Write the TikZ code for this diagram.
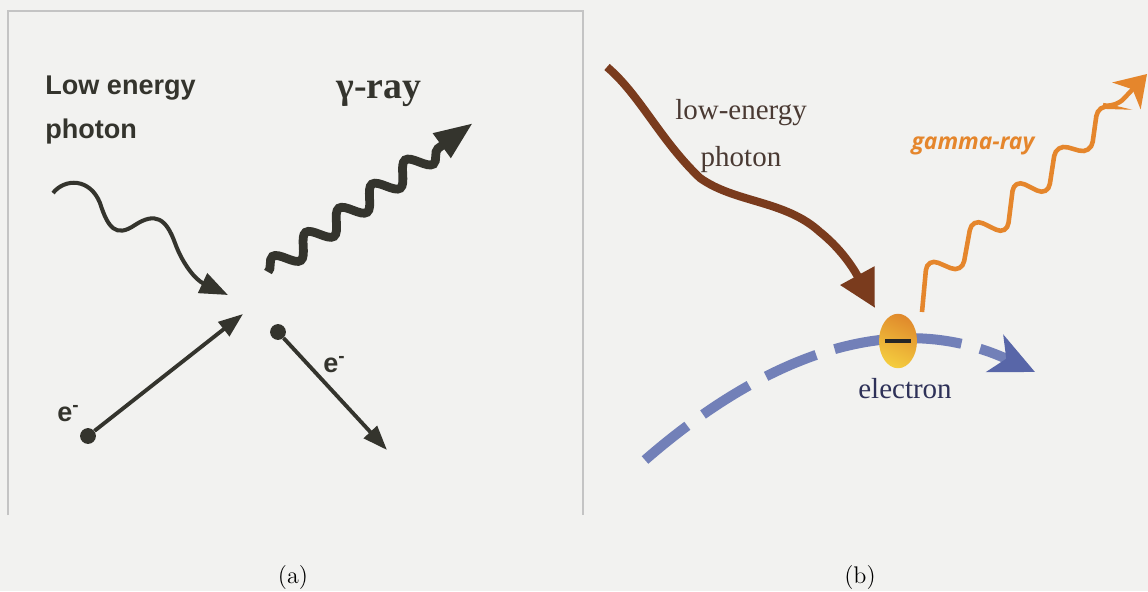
\documentclass[tikz,border=0pt]{standalone}
\usepackage{fontspec}
\usepackage{tikz}
\usetikzlibrary{arrows.meta, calc, positioning, shapes, decorations.pathmorphing}

\newfontfamily\arialfam{Liberation Sans}
\newfontfamily\timesfam{Liberation Serif}
\newfontfamily\opensfam{Open Sans}

\definecolor{inkdark}{HTML}{34342D}
\definecolor{photonbrown}{HTML}{7A3B1D}
\definecolor{gammaorange}{HTML}{E5862C}
\definecolor{pathblue}{HTML}{7280B8}
\definecolor{tipblue}{HTML}{5866A8}
\definecolor{txtbrown}{HTML}{4A3A33}
\definecolor{txtnavy}{HTML}{2E3158}
\definecolor{pagebg}{HTML}{F2F2F0}
\definecolor{framegray}{HTML}{C4C4C4}

\begin{document}
\begin{tikzpicture}[x=0.02cm, y=-0.02cm, >=stealth,
    lbl/.style={inner sep=0pt, text=inkdark, font=\arialfam\bfseries\fontsize{15.4}{25}\selectfont},
    edot/.style={circle, fill=inkdark, inner sep=0pt, minimum size=9pt},
    thinray/.style={draw=inkdark, line width=2.3pt},
    earrow/.style={draw=inkdark, line width=2.2pt, -{Triangle[length=14pt, width=10pt]}}]

    % Page
    \fill[pagebg] (0,0) rectangle (1148,591);
    \useasboundingbox (0,0) rectangle (1148,591);
    \draw[framegray, line width=0.85pt] (8,515) -- (8,11) -- (583,11) -- (583,515);

    % (a) inverse Compton sketch
    \node[lbl, anchor=north west, align=left] (lowtxt) at (45,76) {Low energy\\photon};
    \node[inner sep=0pt, anchor=base west, text=inkdark, font=\timesfam\bfseries\fontsize{21.5}{24}\selectfont] (gamtxt) at (336,99) {γ-ray};

    \coordinate (lp-start) at (53,193);
    \coordinate (lp-tip) at (228,295);
    \draw[thinray, -{Triangle[length=16pt, width=12pt]}] (lp-start) .. controls (65,178) and (90,178) .. (100,203) .. controls (108,228) and (116,238) .. (135,225) .. controls (155,212) and (166,218) .. (175,243) .. controls (183,265) and (196,280) .. (lp-tip);

    \coordinate (gl-start) at (268,272);
    \coordinate (gl-tip) at (473,123);
    \draw[inkdark, line width=5pt, decorate, decoration={snake, amplitude=0.2cm, segment length=0.82cm, post length=0.6cm}, -{Triangle[length=22pt, width=16pt]}] (gl-start) -- (gl-tip);

    \node[edot] (ein) at (88,436) {};
    \coordinate (ein-tip) at (243,314);
    \draw[earrow] (ein) -- (ein-tip);
    \node[lbl, anchor=base west] (einlbl) at (57,421) {e\textsuperscript{-}};

    \node[edot] (eout) at (278,332) {};
    \coordinate (eout-tip) at (387,450);
    \draw[earrow] (eout) -- (eout-tip);
    \node[lbl, anchor=base west] (eoutlbl) at (323,372) {e\textsuperscript{-}};

    % (b) electron on curved path
    \coordinate (eb-start) at (645,460);
    \coordinate (eb-tip) at (1035,372);
    \draw[pathblue, line width=5.7pt, dash pattern=on 31pt off 11pt, -{Stealth[length=25pt, width=23pt, inset=7pt, color=tipblue]}] (eb-start) .. controls (760,360) and (890,305) .. (eb-tip);

    \coordinate (rp-start) at (607,67);
    \coordinate (rp-tip) at (875,308);
    \draw[photonbrown, line width=4.6pt, -{Triangle[length=21pt, width=21pt]}] (rp-start) .. controls (640,95) and (660,140) .. (700,178) .. controls (735,203) and (785,200) .. (820,232) .. controls (845,252) and (857,275) .. (rp-tip);

    \coordinate (gr-start) at (922,312);
    \coordinate (gr-tip) at (1147,74);
    \draw[gammaorange, line width=2.6pt, rounded corners=7pt, -{Stealth[length=17pt, width=22pt, inset=5pt]}] (gr-start) -- (927,258) -- (962,273) -- (972,218) -- (1007,235) -- (1014,179) -- (1048,196) -- (1056,144) -- (1091,154) -- (1098,104) -- (1115,108) -- (gr-tip);

    \node[ellipse, minimum width=21.6pt, minimum height=31pt, inner sep=0pt, top color={rgb,255:red,224;green,138;blue,44}, bottom color={rgb,255:red,244;green,204;blue,62}, shading angle=-25] (electron) at (898,341) {};
    \node[fill=black!85, minimum width=15pt, minimum height=2.8pt, inner sep=0pt] (minus) at (electron.center) {};

    \node[inner sep=0pt, align=center, text=txtbrown, font=\timesfam\fontsize{16.5}{26.7}\selectfont] (lowtxt2) at (741,136) {low-energy\\photon};
    \node[inner sep=0pt, anchor=base, text=gammaorange, font=\opensfam\bfseries\itshape\fontsize{13}{16}\selectfont] (gamtxt2) at (973,150) {gamma-ray};
    \node[inner sep=0pt, anchor=base, text=txtnavy, font=\timesfam\fontsize{16.5}{20}\selectfont] (elbl) at (905,398) {electron};

    % Captions
    \node[font=\fontsize{13.7}{16}\selectfont] (capa) at (293,577) {(a)};
    \node[font=\fontsize{13.7}{16}\selectfont] (capb) at (860,577) {(b)};
\end{tikzpicture}
\end{document}
